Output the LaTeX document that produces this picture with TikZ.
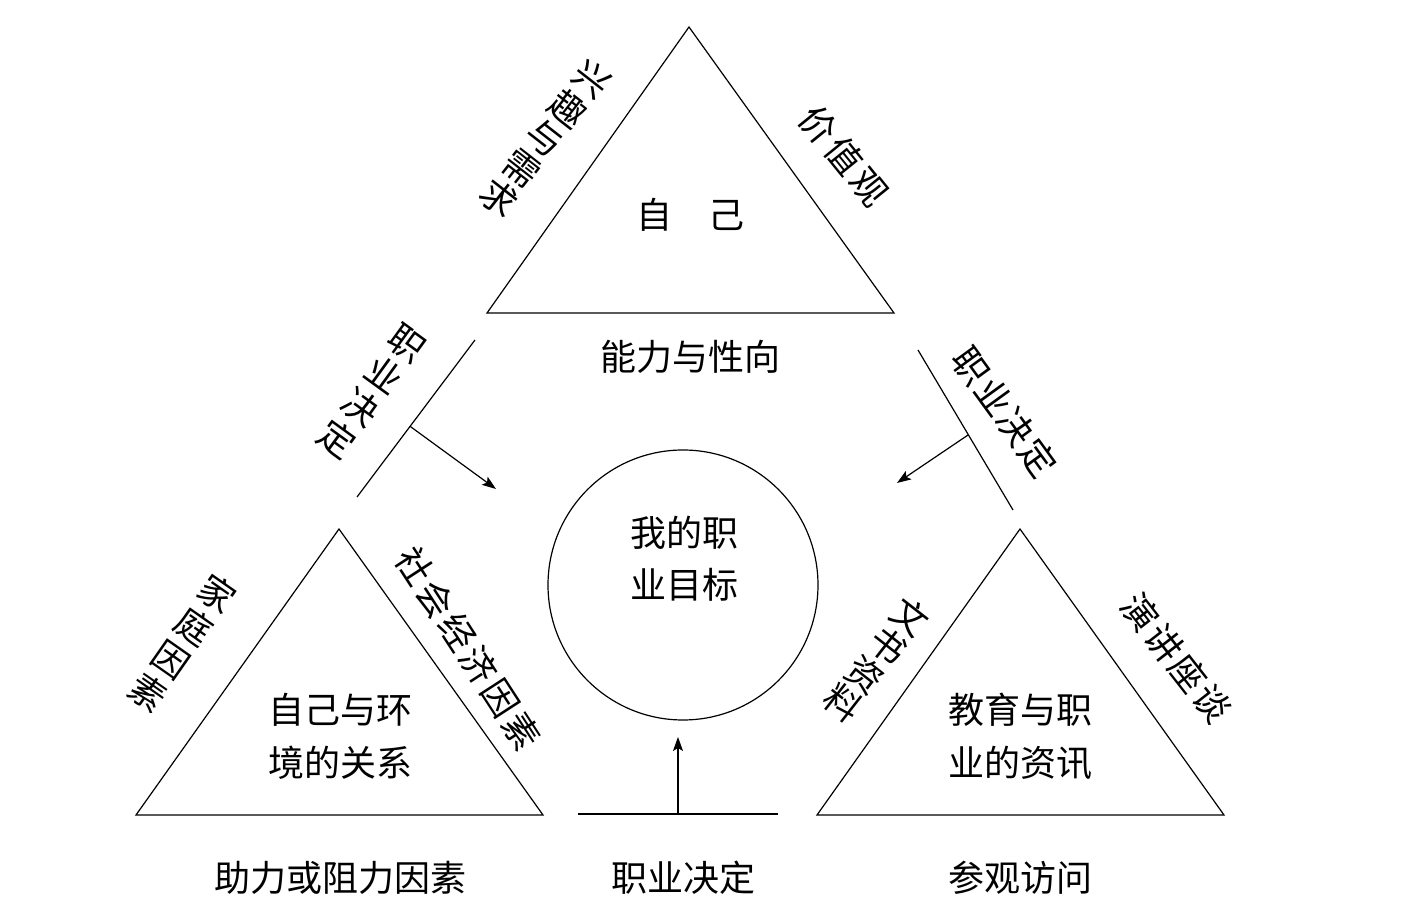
\documentclass[tikz,border=0pt]{standalone}
\usepackage{fontspec}
\newfontfamily\cjk{Noto Sans CJK SC}
\usetikzlibrary{arrows.meta,calc}
\tikzset{
  edge/.style={line width=0.6pt, black},
  arr/.style={edge, -{Stealth[length=7pt,width=5pt,inset=1.5pt]}},
  lbl/.style={inner sep=0pt, font=\cjk\fontsize{18}{18}\selectfont},
  vlbl/.style={inner sep=0pt, align=center, font=\cjk\fontsize{18}{#1}\selectfont},
}
\newcommand{\gp}[1]{\hspace{#1pt}}
\begin{document}
\begin{tikzpicture}[x=0.5pt,y=-0.5pt]
\useasboundingbox (0,0) rectangle (1426,908);
% top triangle
\coordinate (ta) at (689,27);
\coordinate (tl) at (487,313);
\coordinate (tr) at (894,313);
\draw[edge] (ta) -- (tl) -- (tr) -- cycle;
% bottom-left triangle
\coordinate (la) at (339,529);
\coordinate (ll) at (136,815);
\coordinate (lr) at (543,815);
\draw[edge] (la) -- (ll) -- (lr) -- cycle;
% bottom-right triangle
\coordinate (ra) at (1020,529);
\coordinate (rl) at (817,815);
\coordinate (rr) at (1224,815);
\draw[edge] (ra) -- (rl) -- (rr) -- cycle;
% circle
\node[draw, edge, circle, minimum size=135pt, inner sep=0pt] (goal) at (683,585) {};
\node[lbl] (goal1) at (684,533) {我的职};
\node[lbl] (goal2) at (684,585) {业目标};
% decision lines
\coordinate (d1a) at (475,340);
\coordinate (d1b) at (357,497);
\draw[edge] (d1a) -- (d1b);
\coordinate (d1s) at ($(d1a)!0.55!(d1b)$);
\coordinate (d1e) at (496,489);
\draw[arr] (d1s) -- (d1e);
\coordinate (d2a) at (918,350);
\coordinate (d2b) at (1013,510);
\draw[edge] (d2a) -- (d2b);
\coordinate (d2s) at ($(d2a)!0.53!(d2b)$);
\coordinate (d2e) at (897,483);
\draw[arr] (d2s) -- (d2e);
\coordinate (d3a) at (578,814);
\coordinate (d3b) at (778,814);
\draw[edge] (d3a) -- (d3b);
\coordinate (d3s) at ($(d3a)!0.5!(d3b)$);
\coordinate (d3e) at (678,737);
\draw[arr] (d3s) -- (d3e);
% texts
\node[lbl] (self) at (690,215) {自　己};
\node[lbl] (ability) at (690,357) {能力与性向};
\node[lbl] (env1) at (340,710) {自己与环};
\node[lbl] (env2) at (340,763) {境的关系};
\node[lbl] (edu1) at (1020,710) {教育与职};
\node[lbl] (edu2) at (1020,763) {业的资讯};
\node[lbl] (b1) at (340,878) {助力或阻力因素};
\node[lbl] (b2) at (683,878) {职业决定};
\node[lbl] (b3) at (1020,878) {参观访问};
% slanted texts: stacked (reading down-left)
\node[vlbl=18.9, rotate=-38] (xq) at (545,138.5) {兴\\趣\\与\\需\\求};
\node[vlbl=19.9, rotate=-36] (jd1) at (372,391.5) {职\\业\\决\\定};
\node[vlbl=20.2, rotate=-35] (jt) at (182.5,643) {家\\庭\\因\\素};
\node[vlbl=18.2, rotate=-38] (ws) at (876.5,660) {文\\书\\资\\料};
% slanted texts: horizontal (reading down-right)
\node[lbl, rotate=-51] (jz) at (844,156) {价\gp{2}值\gp{2}观};
\node[lbl, rotate=-54] (jd2) at (1005,412) {职\gp{1}业\gp{1}决\gp{1}定};
\node[lbl, rotate=-57] (sh) at (468.5,649) {社\gp{1.7}会\gp{1.7}经\gp{1.7}济\gp{1.7}因\gp{1.7}素};
\node[lbl, rotate=-52] (yj) at (1176.5,658) {演\gp{1.3}讲\gp{1.3}座\gp{1.3}谈};
\end{tikzpicture}
\end{document}
